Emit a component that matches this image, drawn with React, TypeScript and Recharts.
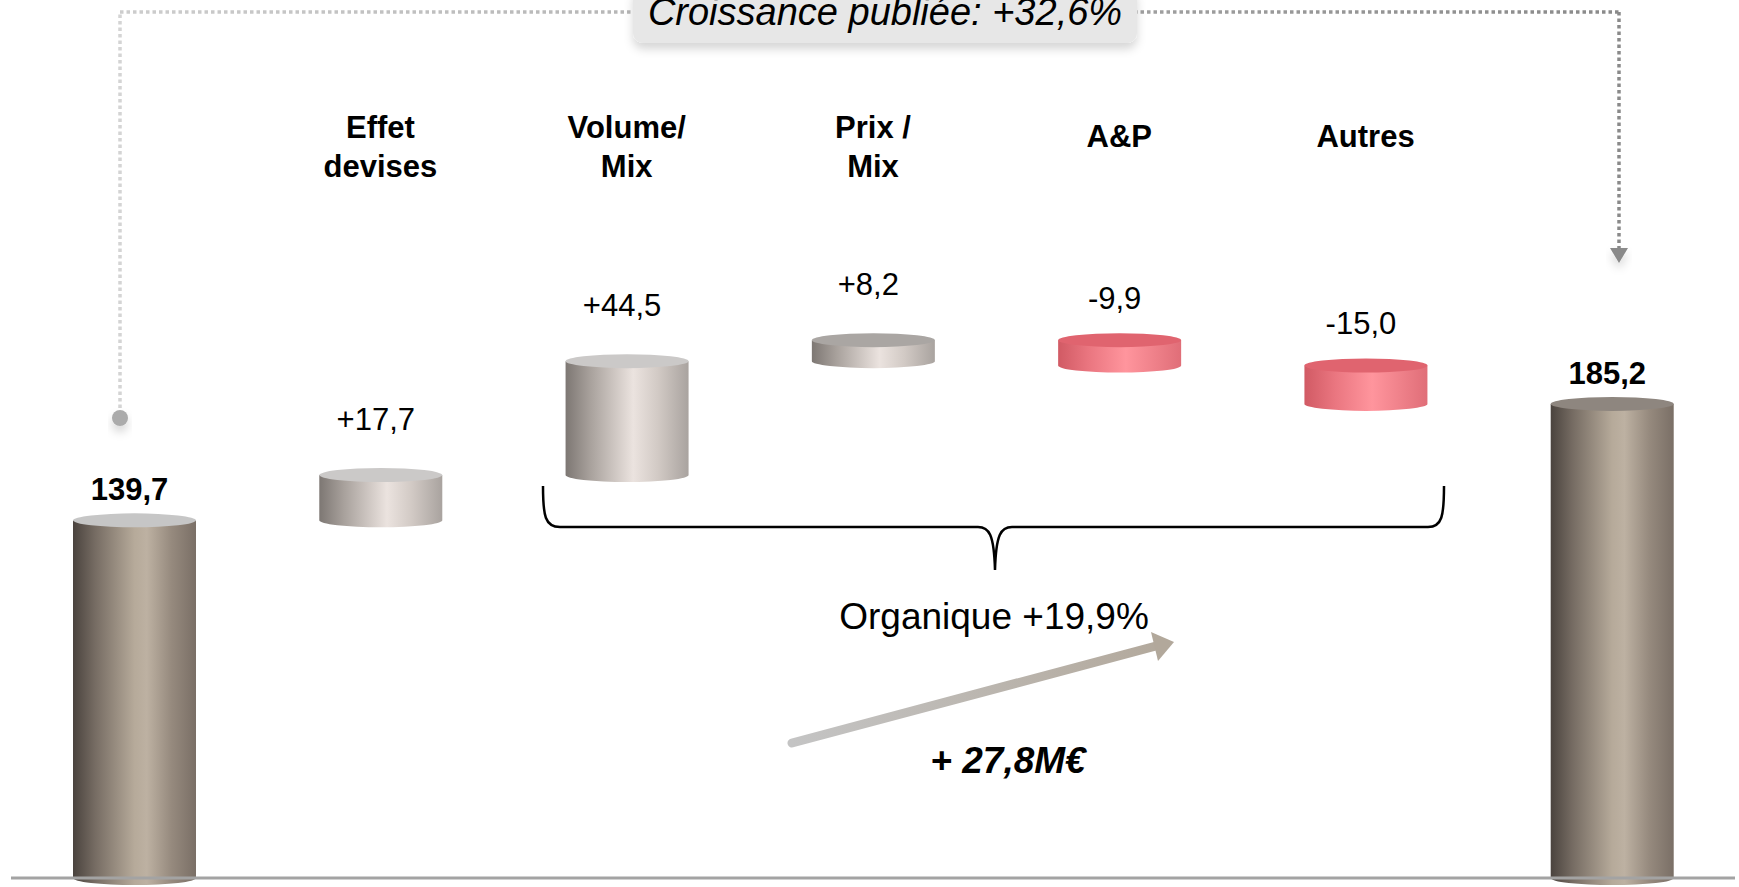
import React from "react";
import { BarChart, Bar, XAxis, YAxis, ReferenceLine } from "recharts";

const categories = ["", "Effet\ndevises", "Volume/\nMix", "Prix /\nMix", "A&P", "Autres", ""];
const amounts = [139.7, 17.7, 44.5, 8.2, -9.9, -15.0, 185.2];
const kinds = ["total", "up", "up", "up", "down", "down", "total"];
const valueLabels = ["139,7", "+17,7", "+44,5", "+8,2", "-9,9", "-15,0", "185,2"];

const FONT = "'Liberation Sans', Arial, sans-serif";

// waterfall: totals start at 0, steps float on the running total
let running = 0;
const data = categories.map((name, i) => {
  let low = 0;
  let high = amounts[i];
  if (kinds[i] === "total") {
    running = amounts[i];
  } else {
    const next = running + amounts[i];
    low = Math.min(running, next);
    high = Math.max(running, next);
    running = next;
  }
  return { name, range: [low, high], kind: kinds[i], text: valueLabels[i], idx: i };
});

const bodyFill: Record<string, string> = {
  total: "url(#gTotal)",
  up: "url(#gUp)",
  down: "url(#gDown)",
};

function Cylinder(props: any) {
  const { x, y, width, height } = props;
  const p = props.payload ?? props;
  const kind = p.kind;
  const rx = width / 2;
  const ry = 7;
  const cx = x + rx;
  const body = `M${x},${y} L${x},${y + height} A${rx},${ry} 0 0 0 ${x + width},${y + height} L${x + width},${y} Z`;
  let topFill = "#cbc9c8";
  if (kind === "total") topFill = p.idx === 0 ? "#c6c6c6" : "#8e867f";
  if (kind === "down") topFill = "#e0646f";
  if (kind === "up" && p.idx === 3) topFill = "#aaa6a3";
  const gap = kind === "total" ? 20 : kind === "up" ? 45 : 31;
  return (
    <g>
      <path d={body} fill={bodyFill[kind]} />
      <ellipse cx={cx} cy={y} rx={rx} ry={ry} fill={topFill} />
      <text
        x={cx - 5}
        y={y - gap}
        textAnchor="middle"
        fontSize={31}
        fontWeight={kind === "total" ? 700 : 400}
        fontFamily={FONT}
        fill="#000"
      >
        {p.text}
      </text>
    </g>
  );
}

function CategoryTick(props: any) {
  const { x, y, payload } = props;
  const lines = String(payload?.value ?? "").split("\n").filter(Boolean);
  const start = lines.length === 1 ? 37 : 28;
  return (
    <g>
      {lines.map((l, k) => (
        <text
          key={k}
          x={x}
          y={y + start + k * 39}
          textAnchor="middle"
          fontSize={31}
          fontWeight={700}
          fontFamily={FONT}
          fill="#000"
        >
          {l}
        </text>
      ))}
    </g>
  );
}

function Decorations() {
  return (
    <svg width={1739} height={887} style={{ position: "absolute", left: 0, top: 0, pointerEvents: "none" }}>
      <defs>
        <filter id="soft" x="-20%" y="-60%" width="140%" height="260%">
          <feDropShadow dx="0" dy="6" stdDeviation="5" floodColor="#000" floodOpacity="0.16" />
        </filter>
        <linearGradient id="dotLine" gradientUnits="userSpaceOnUse" x1="120" y1="0" x2="1620" y2="0">
          <stop offset="0" stopColor="#cdcdcd" />
          <stop offset="1" stopColor="#8a8a8a" />
        </linearGradient>
        <linearGradient id="arrowG" gradientUnits="userSpaceOnUse" x1="792" y1="743" x2="1173" y2="642">
          <stop offset="0" stopColor="#c4c4c4" />
          <stop offset="1" stopColor="#b2a89b" />
        </linearGradient>
      </defs>

      {/* published growth connector */}
      <line x1={120} y1={408} x2={120} y2={12} stroke="#d4d4d4" strokeWidth={3.5} strokeDasharray="3.5 3" />
      <line x1={120} y1={12} x2={1619} y2={12} stroke="url(#dotLine)" strokeWidth={3.5} strokeDasharray="3.5 3" />
      <line x1={1619} y1={12} x2={1619} y2={250} stroke="#8a8a8a" strokeWidth={3.5} strokeDasharray="3.5 3" />
      <polygon points="1610,248 1628,248 1619,263" fill="#8a8a8a" filter="url(#soft)" />
      <circle cx={120} cy={418} r={8} fill="#ababab" filter="url(#soft)" />

      <rect x={633} y={-14} width={504} height={57} rx={10} fill="#e7e7e7" filter="url(#soft)" />
      <text x={885} y={25} textAnchor="middle" fontSize={38} fontStyle="italic" fontFamily={FONT} fill="#000">
        Croissance publiée: +32,6%
      </text>

      {/* organic brace */}
      <path
        d="M543,486 C543,516 545,527 560,527 L978,527 C989,527 994,534 995,570 C996,534 1001,527 1012,527 L1428,527 C1442,527 1444,516 1444,486"
        fill="none"
        stroke="#000"
        strokeWidth={2.5}
      />
      <text x={994} y={629} textAnchor="middle" fontSize={37} fontFamily={FONT} fill="#000">
        Organique +19,9%
      </text>

      <line x1={792} y1={743} x2={1156} y2={646} stroke="url(#arrowG)" strokeWidth={9} strokeLinecap="round" />
      <polygon points="1151,632 1174,642 1158,661" fill="#b2a89b" />
      <text
        x={1008}
        y={773}
        textAnchor="middle"
        fontSize={37}
        fontWeight={700}
        fontStyle="italic"
        fontFamily={FONT}
        fill="#000"
      >
        + 27,8M€
      </text>
    </svg>
  );
}

export default function App() {
  return (
    <div style={{ position: "absolute", left: 0, top: 0, width: 1739, height: 887, background: "#fff" }}>
      <Decorations />
      <div style={{ position: "absolute", left: 0, top: 0 }}>
        <BarChart width={1739} height={887} data={data} margin={{ top: 80, right: 4, bottom: 9, left: 11 }}>
          <defs>
            <linearGradient id="gTotal" x1="0" y1="0" x2="1" y2="0">
              <stop offset="0" stopColor="#4a433e" />
              <stop offset="0.18" stopColor="#766c63" />
              <stop offset="0.5" stopColor="#b6aa9a" />
              <stop offset="0.6" stopColor="#bdb1a2" />
              <stop offset="0.8" stopColor="#968a7e" />
              <stop offset="1" stopColor="#7a6f66" />
            </linearGradient>
            <linearGradient id="gUp" x1="0" y1="0" x2="1" y2="0">
              <stop offset="0" stopColor="#7d7773" />
              <stop offset="0.2" stopColor="#a8a19c" />
              <stop offset="0.55" stopColor="#ebe3df" />
              <stop offset="0.75" stopColor="#d2cac5" />
              <stop offset="1" stopColor="#a9a39f" />
            </linearGradient>
            <linearGradient id="gDown" x1="0" y1="0" x2="1" y2="0">
              <stop offset="0" stopColor="#d15a64" />
              <stop offset="0.25" stopColor="#ea7680" />
              <stop offset="0.55" stopColor="#ff959d" />
              <stop offset="1" stopColor="#e06e78" />
            </linearGradient>
          </defs>
          <XAxis dataKey="name" height={0} tick={false} tickLine={false} axisLine={false} />
          <XAxis
            xAxisId="top"
            dataKey="name"
            orientation="top"
            height={30}
            tickSize={0}
            tickMargin={0}
            axisLine={false}
            tickLine={false}
            tick={CategoryTick}
            interval={0}
          />
          <YAxis hide domain={[0, 300]} />
          <ReferenceLine y={0} stroke="#a3a3a3" strokeWidth={3} ifOverflow="visible" />
          {/* carries the top category axis; draws nothing */}
          <Bar xAxisId="top" dataKey="range" barSize={123} fill="none" shape={() => <g />} isAnimationActive={false} />
          <Bar dataKey="range" barSize={123} shape={<Cylinder />} isAnimationActive={false} />
        </BarChart>
      </div>
    </div>
  );
}
